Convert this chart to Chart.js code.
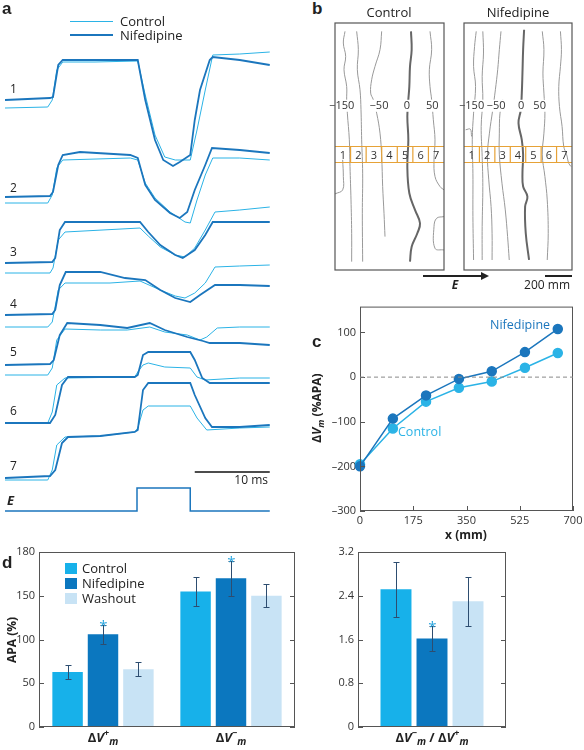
<!DOCTYPE html>
<html>
<head>
<meta charset="utf-8">
<script src="https://cdn.jsdelivr.net/npm/chart.js@4.4.1/dist/chart.umd.min.js"></script>
<style>
  body { margin: 0; width: 584px; height: 750px; position: relative; background: #fff; overflow: hidden;
         font-family: "Open Sans", sans-serif; color: #222; }
  canvas { position: absolute; }
  .t { position: absolute; white-space: nowrap; line-height: 1; }
  .hl { position: absolute; }
</style>
</head>
<body>
<canvas id="cA" width="270" height="530" style="left:5px;top:0"></canvas>
<canvas id="cB1" width="125" height="257" style="left:325px;top:18px"></canvas>
<canvas id="cB2" width="124" height="257" style="left:454px;top:18px"></canvas>
<canvas id="cC" width="274" height="254" style="left:310px;top:296px"></canvas>
<canvas id="cD1" width="300" height="210" style="left:0;top:540px"></canvas>
<canvas id="cD2" width="284" height="210" style="left:300px;top:540px"></canvas>
<script>
// ---- shared names ----
const seriesNames = ['Control', 'Nifedipine'];
const washName = 'Washout';

// ---- panel a : optical traces (time in ms, amplitude in trace units) ----
const traceLabels = ['1', '2', '3', '4', '5', '6', '7'];
const controlTraces = [
  [[0,-8],[5.7,-7],[6.3,0],[6.9,30],[7.7,38],[12,38],[17.7,39],[18.7,5],[20,-35],[21.3,-57],[22.7,-60],[24.7,-60],[25.6,-30],[26.7,10],[27.7,45],[31.3,46],[35.3,48]],
  [[0,-6],[5.7,-6],[6.3,2],[6.9,29],[7.7,37],[16.7,39],[17.7,37],[18.7,14],[20,-1],[22,-15],[24,-25],[24.7,-26],[25.6,-3],[26.7,22],[27.7,39],[31.3,39],[35.3,37]],
  [[0,-10],[6,-10],[6.4,-5],[7.1,23],[8,31],[18,35],[19.1,27],[20.7,16],[22.7,8],[24,6],[25.3,15],[26.7,33],[28,51],[31.3,53],[35.3,56]],
  [[0,-12],[5.7,-12],[6.3,-7],[7.1,25],[8,32],[14,32],[18,34],[20.7,25],[22.7,19],[24,17],[25.3,22],[26.7,32],[28,48],[31.3,49],[35.3,50]],
  [[0,-10],[5.7,-10],[6.3,-3],[6.9,25],[8,36],[12.7,35],[16.3,35],[19.3,38],[21.3,33],[24.3,30],[26,25],[26.9,28],[28.3,37],[31.3,38],[35.3,38]],
  [[0,0],[5.7,0],[6.3,11],[6.9,38],[8,45],[17.3,46],[17.7,51],[18.4,58],[19.1,60],[21.3,56],[24.7,55],[25.6,46],[26.7,43],[31.3,45],[35.3,45]],
  [[0,-2],[5.7,-2],[6.3,8],[6.9,33],[8,41],[12.7,42],[17.3,46],[17.7,50],[18.4,68],[19.1,72],[24.7,72],[25.6,60],[26.9,48],[31.3,50],[35.3,51]]
];
const nifTraces = [
  [[0,0],[6,2],[6.4,3],[7.1,35],[7.7,40],[12,40],[17.7,40],[18.7,0],[20,-40],[21.1,-60],[22.4,-66],[23.3,-62],[24.7,-55],[25.3,-20],[26,10],[27.3,40],[27.7,43],[31.3,40],[35.3,35]],
  [[0,0],[6,1],[6.4,5],[7.1,32],[7.7,42],[10,45],[16.7,42],[17.7,39],[18.7,12],[20,-3],[22,-16],[23.3,-21],[24.3,-15],[25.3,7],[26.7,32],[27.6,49],[31.3,47],[35.3,44]],
  [[0,0],[6.3,1],[6.7,5],[7.3,33],[8,41],[18,41],[19.1,31],[20.7,18],[22.7,8],[23.7,5],[25.3,13],[26.7,28],[27.7,41],[31.3,41],[35.3,41]],
  [[0,0],[6.3,1],[6.7,5],[7.3,30],[8.1,43],[12.7,43],[16,37],[18.7,35],[20.7,25],[22.7,17],[24.7,13],[26,20],[28,30],[31.3,30],[35.3,29]],
  [[0,0],[6,1],[6.5,5],[7.3,30],[8.3,42],[12.7,40],[16.3,37],[19.3,42],[21.3,35],[24.3,28],[26.4,24],[27.3,22],[31.3,22],[35.3,20]],
  [[0,0],[6,0],[6.7,8],[7.6,38],[8.4,46],[17.3,46],[17.7,48],[18.4,68],[19.1,71],[24.7,71],[25.3,63],[26.3,45],[27.3,40],[35.3,40]],
  [[0,0],[6,2],[6.7,8],[7.6,35],[8.4,41],[12.7,42],[17.3,46],[17.7,48],[18.4,88],[19.1,95],[24.7,95],[25.3,83],[26.7,60],[27.6,51],[31.3,51],[35.3,53]]
];
const stimTrace = [[0,0],[17.6,0],[17.6,23],[24.7,23],[24.7,0],[35.3,0]];
const scaleBarMs = 10;

// ---- panel b : isopotential maps (box units) ----
const electrodes = ['1', '2', '3', '4', '5', '6', '7'];
const isoLevels = ['\u2212150', '\u221250', '0', '50'];
const controlContours = [
  [[30,25],[25,60],[32,100],[27,140],[35,190],[35,230],[37,270],[43,350],[45,430],[48,530],[50,630],[50,715]],
  [[0,512],[23,500],[25,460],[23,410]],
  [[65,25],[70,80],[67,140],[75,200],[78,260],[80,350],[83,450],[82,570],[83,715]],
  [[140,25],[135,80],[120,130],[110,170],[107,210],[115,230],[125,270],[135,330],[140,400],[143,490],[147,570],[150,640]],
  [[285,25],[290,80],[283,140],[285,190],[290,230],[295,290],[300,350],[297,410],[300,460],[315,490],[327,500]],
  [[327,580],[305,585],[297,610],[300,675],[327,680]]
];
const controlZero = [[228,25],[230,80],[225,130],[223,190],[220,230],[217,280],[220,350],[217,430],[223,510],[240,560],[255,600],[247,630],[230,670],[225,715]];
const nifContours = [
  [[37,25],[32,70],[29,130],[35,190],[29,270],[25,350],[27,450],[27,580],[29,710]],
  [[5,320],[19,318],[23,340]],
  [[57,25],[59,90],[55,160],[57,230],[52,310],[55,400],[57,490],[55,610],[55,710]],
  [[112,25],[107,80],[102,140],[95,200],[87,260],[77,330],[71,395],[75,470],[82,550],[85,630],[85,710]],
  [[117,230],[109,270],[107,330],[107,395],[115,480],[125,560],[132,640],[137,710]],
  [[237,25],[242,80],[239,150],[242,210],[245,270],[242,330],[237,395],[245,460],[252,530],[255,630],[252,710]],
  [[292,25],[295,80],[292,130],[287,190],[289,250],[297,310],[302,370],[311,395],[317,420],[324,430]]
];
const nifZero = [[182,20],[179,80],[177,150],[175,210],[172,260],[165,300],[175,350],[179,395],[177,450],[179,490],[192,520],[185,550],[187,630],[197,710]];

// ---- panel c ----
const electrodeX = [0, 108, 217, 325, 433, 542, 650];
const controlDV = [-195, -115, -55, -24, -10, 21, 54];
const nifDV = [-200, -93, -41, -4, 13, 56, 108];
const cXTicks = [0, 175, 350, 525, 700];
const cYTicks = [-300, -200, -100, 0, 100];

// ---- panel d ----
const dGroups = ['\u0394V+m', '\u0394V\u2212m'];
const controlApa = [63, 155], controlApaErr = [8, 17];
const nifApa = [106, 170], nifApaErr = [11, 20];
const washApa = [66, 150], washApaErr = [8, 13];
const nifApaSig = [true, true];
const dYTicks = [0, 50, 100, 150, 200];
const dYTickLabels = ['0', '50', '100', '150', '180'];
const ratioGroup = ['\u0394V\u2212m / \u0394V+m'];
const controlRatio = [2.52], controlRatioErr = [0.5];
const nifRatio = [1.62], nifRatioErr = [0.23];
const washRatio = [2.30], washRatioErr = [0.45];
const nifRatioSig = [true];
const rYTicks = [0, 0.8, 1.6, 2.4, 3.2];

// ---- styles ----
const FF = '"Open Sans", sans-serif';
const CTRL = '#2bb3e6', NIF = '#1b76bd', WASH = '#c8e3f5';
const BAR_CTRL = '#17b1ea', BAR_NIF = '#0b77bf';
Chart.defaults.font.family = FF;
Chart.defaults.color = '#333';

const quiet = { legend: { display: false }, tooltip: { enabled: false } };

// layout of panel a (stacking of the traces, in trace units = px)
const traceBase = [100, 197, 263, 315, 365, 423, 478];
const stimBase = 511, scaleBarBase = 472;

const shift = (pts, b) => pts.map(p => ({ x: p[0], y: p[1] - b }));
const aSets = [];
traceLabels.forEach((lab, i) => {
  aSets.push({ data: shift(nifTraces[i], traceBase[i]), borderColor: NIF, borderWidth: 1.8 });
  aSets.push({ data: shift(controlTraces[i], traceBase[i]), borderColor: CTRL, borderWidth: 1 });
});
aSets.push({ data: shift(stimTrace, stimBase), borderColor: NIF, borderWidth: 1.5 });
aSets.push({ data: [{ x: 35.3 - scaleBarMs, y: -scaleBarBase }, { x: 35.3, y: -scaleBarBase }], borderColor: '#111', borderWidth: 1.5 });

new Chart('cA', {
  type: 'line',
  data: { datasets: aSets },
  options: {
    responsive: false, animation: false, events: [],
    plugins: quiet,
    elements: { point: { radius: 0 }, line: { tension: 0 } },
    layout: { padding: 0 },
    scales: {
      x: { type: 'linear', display: false, min: 0, max: 36 },
      y: { display: false, min: -530, max: 0 }
    }
  }
});

// ---- panel b charts ----
function boxPlugin(labelPos) {
  return {
    id: 'box',
    afterDatasetsDraw(chart) {
      const { ctx, chartArea: a, scales: { x, y } } = chart;
      ctx.save();
      // electrode strip
      ctx.strokeStyle = '#e6a237'; ctx.lineWidth = 1.2;
      const y1 = y.getPixelForValue(370), y2 = y.getPixelForValue(418);
      ctx.beginPath();
      ctx.moveTo(a.left, y1); ctx.lineTo(a.right, y1);
      ctx.moveTo(a.left, y2); ctx.lineTo(a.right, y2);
      for (let i = 1; i < electrodes.length; i++) {
        const px = x.getPixelForValue(i * 327 / electrodes.length);
        ctx.moveTo(px, y1); ctx.lineTo(px, y2);
      }
      ctx.stroke();
      ctx.fillStyle = '#333'; ctx.font = '11px ' + FF;
      ctx.textAlign = 'center'; ctx.textBaseline = 'middle';
      electrodes.forEach((e, i) => {
        ctx.fillText(e, x.getPixelForValue((i + 0.5) * 327 / electrodes.length), (y1 + y2) / 2 + 1);
      });
      // iso labels
      ctx.font = '11px ' + FF;
      isoLevels.forEach((lab, i) => {
        const px = x.getPixelForValue(labelPos[i]), py = y.getPixelForValue(248);
        const w = ctx.measureText(lab).width;
        ctx.fillStyle = '#fff'; ctx.fillRect(px - w / 2 - 1, py - 6, w + 2, 12);
        ctx.fillStyle = '#333'; ctx.fillText(lab, px, py);
      });
      ctx.strokeStyle = '#555'; ctx.lineWidth = 1.2;
      ctx.strokeRect(a.left, a.top, a.right - a.left, a.bottom - a.top);
      ctx.restore();
    }
  };
}
function boxChart(id, thin, zero, labelPos) {
  const sets = thin.map(c => ({ data: c.map(p => ({ x: p[0], y: p[1] })), borderColor: '#999', borderWidth: 1 }));
  sets.push({ data: zero.map(p => ({ x: p[0], y: p[1] })), borderColor: '#666', borderWidth: 2 });
  new Chart(id, {
    type: 'scatter',
    data: { datasets: sets.map(s => Object.assign(s, { showLine: true, pointRadius: 0, tension: 0.4 })) },
    options: {
      responsive: false, animation: false, events: [],
      plugins: quiet,
      layout: { padding: { left: 10, right: 6, top: 5, bottom: 5 } },
      scales: {
        x: { display: false, min: 0, max: 327 },
        y: { display: false, min: 0, max: 740, reverse: true }
      }
    },
    plugins: [boxPlugin(labelPos)]
  });
}
boxChart('cB1', controlContours, controlZero, [20, 132, 216, 292]);
boxChart('cB2', nifContours, nifZero, [23, 97, 173, 229]);

// ---- frame + inward ticks (+ optional x tick labels) ----
const framePlugin = {
  id: 'frame',
  afterDraw(chart, args, o) {
    const { ctx, chartArea: a } = chart;
    ctx.save();
    ctx.strokeStyle = '#555'; ctx.lineWidth = 1;
    ctx.strokeRect(a.left + 0.5, a.top + 0.5, a.right - a.left - 1, a.bottom - a.top - 1);
    (o.sides || []).forEach(side => {
      const s = (side === 'left' || side === 'right') ? chart.scales.y : chart.scales.x;
      s.ticks.forEach(t => {
        const p = Math.round(s.getPixelForValue(t.value)) + 0.5;
        ctx.beginPath();
        if (side === 'left') { ctx.moveTo(a.left, p); ctx.lineTo(a.left + 5, p); }
        if (side === 'right') { ctx.moveTo(a.right, p); ctx.lineTo(a.right - 5, p); }
        if (side === 'bottom') { ctx.moveTo(p, a.bottom); ctx.lineTo(p, a.bottom - 5); }
        ctx.stroke();
      });
    });
    if (o.xLabels) {
      const s = chart.scales.x;
      ctx.fillStyle = '#333'; ctx.font = '11px ' + FF;
      ctx.textAlign = 'center'; ctx.textBaseline = 'top';
      o.xLabels.forEach(v => ctx.fillText(String(v), s.getPixelForValue(v), a.bottom + 4));
    }
    if (o.zeroLine) {
      const p = chart.scales.y.getPixelForValue(0);
      ctx.setLineDash([4, 3]); ctx.strokeStyle = '#888';
      ctx.beginPath(); ctx.moveTo(a.left, p); ctx.lineTo(a.right, p); ctx.stroke();
    }
    ctx.restore();
  }
};
const dash = v => String(v).replace('-', '\u2013');

// ---- panel c ----
new Chart('cC', {
  type: 'line',
  data: {
    datasets: [
      { data: electrodeX.map((x, i) => ({ x, y: nifDV[i] })), borderColor: NIF, backgroundColor: NIF },
      { data: electrodeX.map((x, i) => ({ x, y: controlDV[i] })), borderColor: CTRL, backgroundColor: CTRL }
    ].map(d => Object.assign(d, { pointRadius: 4.5, borderWidth: 1.5, clip: false }))
  },
  options: {
    responsive: false, animation: false, events: [],
    plugins: Object.assign({ frame: { sides: ['left', 'bottom'], zeroLine: true, xLabels: cXTicks } }, quiet),
    layout: { padding: { top: 10, right: 11, left: 0, bottom: 0 } },
    scales: {
      x: {
        type: 'linear', min: 0, max: 700,
        afterBuildTicks: s => { s.ticks = cXTicks.map(v => ({ value: v })); },
        afterFit: s => { s.height = 39; },
        grid: { display: false, drawTicks: false }, border: { display: false },
        ticks: { display: false }
      },
      y: {
        min: -300, max: 158,
        afterBuildTicks: s => { s.ticks = cYTicks.map(v => ({ value: v })); },
        afterFit: s => { s.width = 50; },
        grid: { display: false, drawTicks: false }, border: { display: false },
        ticks: { padding: 4, font: { size: 11 }, color: '#333', callback: v => dash(v) }
      }
    }
  },
  plugins: [framePlugin]
});

// ---- panel d ----
function drawDV(ctx, x, y, sign, dry) {
  const parts = [['bold 13px ' + FF, '\u0394', 0], ['italic bold 13px ' + FF, 'V', 0],
                 ['bold 9px ' + FF, sign, -6], ['italic bold 10px ' + FF, 'm', 3]];
  let cx = x;
  parts.forEach(([f, s, dy]) => {
    ctx.font = f;
    if (!dry) ctx.fillText(s, cx, y + dy);
    cx += ctx.measureText(s).width;
  });
  return cx - x;
}
const barExtras = {
  id: 'barExtras',
  afterDatasetsDraw(chart) {
    const { ctx, scales: { x, y }, chartArea: a } = chart;
    ctx.save();
    chart.data.datasets.forEach((ds, di) => {
      chart.getDatasetMeta(di).data.forEach((bar, i) => {
        const v = ds.data[i], e = ds.errors[i];
        const top = Math.round(y.getPixelForValue(v + e)), bot = Math.round(y.getPixelForValue(v - e));
        const bx = Math.round(bar.x) + 0.5;
        ctx.strokeStyle = '#2d4d70'; ctx.lineWidth = 1;
        ctx.beginPath();
        ctx.moveTo(bx, top); ctx.lineTo(bx, bot);
        ctx.moveTo(bx - 3, top + 0.5); ctx.lineTo(bx + 3, top + 0.5);
        ctx.moveTo(bx - 3, bot + 0.5); ctx.lineTo(bx + 3, bot + 0.5);
        ctx.stroke();
        if (ds.stars && ds.stars[i]) {
          ctx.fillStyle = '#2aa5de'; ctx.font = '15px ' + FF;
          ctx.textAlign = 'center'; ctx.textBaseline = 'alphabetic';
          ctx.fillText('*', bx, top + 6);
        }
      });
    });
    // category labels with super/subscripts
    ctx.fillStyle = '#222'; ctx.textAlign = 'left'; ctx.textBaseline = 'alphabetic';
    chart.data.labels.forEach((lab, i) => {
      const cx = x.getPixelForTick(i), by = a.bottom + 15;
      const parts = lab.split(' / ');
      const sep = ' / ';
      let w = 0;
      parts.forEach((p, k) => { w += drawDV(ctx, 0, 0, p[2], true); if (k) { ctx.font = 'bold 13px ' + FF; w += ctx.measureText(sep).width; } });
      let sx = cx - w / 2;
      parts.forEach((p, k) => {
        if (k) { ctx.font = 'bold 13px ' + FF; ctx.fillText(sep, sx, by); sx += ctx.measureText(sep).width; }
        sx += drawDV(ctx, sx, by, p[2], false);
      });
    });
    ctx.restore();
  }
};
function barChart(id, labels, vals, errs, sigs, yMax, yTicks, yLabels, yW, padR, catPct) {
  const colors = [BAR_CTRL, BAR_NIF, WASH];
  const names = [seriesNames[0], seriesNames[1], washName];
  new Chart(id, {
    type: 'bar',
    data: {
      labels,
      datasets: vals.map((v, i) => ({
        label: names[i], data: v, errors: errs[i], stars: sigs[i], backgroundColor: colors[i],
        categoryPercentage: catPct, barPercentage: 0.86
      }))
    },
    options: {
      responsive: false, animation: false, events: [],
      plugins: Object.assign({ frame: { sides: ['left', 'right'] } }, quiet),
      layout: { padding: { top: 12, right: padR, left: 0, bottom: 0 } },
      scales: {
        x: {
          afterFit: s => { s.height = 23; },
          grid: { display: false, drawTicks: false }, border: { display: false },
          ticks: { display: false }
        },
        y: {
          min: 0, max: yMax,
          afterBuildTicks: s => { s.ticks = yTicks.map(v => ({ value: v })); },
          afterFit: s => { s.width = yW; },
          grid: { display: false, drawTicks: false }, border: { display: false },
          ticks: { padding: 4, font: { size: 11 }, color: '#333',
                   callback: (v, i) => yLabels ? yLabels[i] : String(v) }
        }
      }
    },
    plugins: [framePlugin, barExtras]
  });
}
barChart('cD1', dGroups, [controlApa, nifApa, washApa], [controlApaErr, nifApaErr, washApaErr],
         [null, nifApaSig, null], 200, dYTicks, dYTickLabels, 39, 5, 0.83);
barChart('cD2', ratioGroup, [controlRatio, nifRatio, washRatio], [controlRatioErr, nifRatioErr, washRatioErr],
         [null, nifRatioSig, null], 3.2, rYTicks, null, 58, 78, 0.73);

// ---- html text ----
function txt(html, x, base, size, css, align) {
  const d = document.createElement('div');
  d.className = 't';
  d.innerHTML = html;
  const tx = align === 'c' ? 'translateX(-50%)' : align === 'r' ? 'translateX(-100%)' : '';
  d.style.cssText = `left:${x}px;top:${base - 0.888 * size}px;font-size:${size}px;transform:${tx};` + (css || '');
  document.body.appendChild(d);
  return d;
}
function rot(html, cx, cy, size, css) {
  const d = document.createElement('div');
  d.className = 't';
  d.innerHTML = html;
  d.style.cssText = `left:${cx}px;top:${cy}px;font-size:${size}px;transform:translate(-50%,-50%) rotate(-90deg);` + (css || '');
  document.body.appendChild(d);
}
function hline(x, y, w, h, color) {
  const d = document.createElement('div');
  d.className = 'hl';
  d.style.cssText = `left:${x}px;top:${y}px;width:${w}px;height:${h}px;background:${color}`;
  document.body.appendChild(d);
}
const letter = 'font-family:"Liberation Sans",sans-serif;font-weight:bold;';

// panel a text
txt('a', 2, 15, 17, letter);
hline(70, 21, 43, 1, CTRL);
hline(70, 34, 43, 2, NIF);
txt(seriesNames[0], 120, 27, 13);
txt(seriesNames[1], 120, 41, 13);
const traceLabelBase = [94, 193, 257, 309, 357, 416, 471];
traceLabels.forEach((l, i) => txt(l, 10, traceLabelBase[i], 12));
txt('E', 7, 506, 13, 'font-weight:bold;font-style:italic;');
txt('10 ms', 268, 485, 12, '', 'r');

// panel b text
txt('b', 312, 15, 17, letter);
txt(seriesNames[0], 389, 18, 13, '', 'c');
txt(seriesNames[1], 518, 18, 13, '', 'c');
hline(423, 275, 60, 1.5, '#222');
const ah = document.createElement('div');
ah.style.cssText = 'position:absolute;left:481px;top:272px;width:0;height:0;border-top:4px solid transparent;border-bottom:4px solid transparent;border-left:8px solid #222;';
document.body.appendChild(ah);
txt('E', 455, 290, 12, 'font-weight:bold;font-style:italic;', 'c');
hline(545, 275, 27, 1.5, '#222');
txt('200 mm', 570, 290, 12, '', 'r');

// panel c text
txt('c', 312, 348, 17, letter);
rot('<b>\u0394<i>V</i><sub style="font-size:9px"><i>m</i></sub> (%APA)</b>', 318, 408, 12);
txt(seriesNames[1], 490, 330, 12.5, `color:${NIF}`);
txt(seriesNames[0], 398, 437, 12.5, `color:${CTRL}`);
txt('x (mm)', 466, 540, 12, 'font-weight:bold;', 'c');

// panel d text
txt('d', 2, 569, 17, letter);
rot('APA (%)', 12, 640, 12, 'font-weight:bold;');
const legendNames = [seriesNames[0], seriesNames[1], washName];
const legendColors = [BAR_CTRL, BAR_NIF, WASH];
const legendTop = [563, 578, 593];
legendNames.forEach((n, i) => {
  hline(65, legendTop[i], 12, 11, legendColors[i]);
  txt(n, 82, legendTop[i] + 11, 13);
});
</script>
</body>
</html>
